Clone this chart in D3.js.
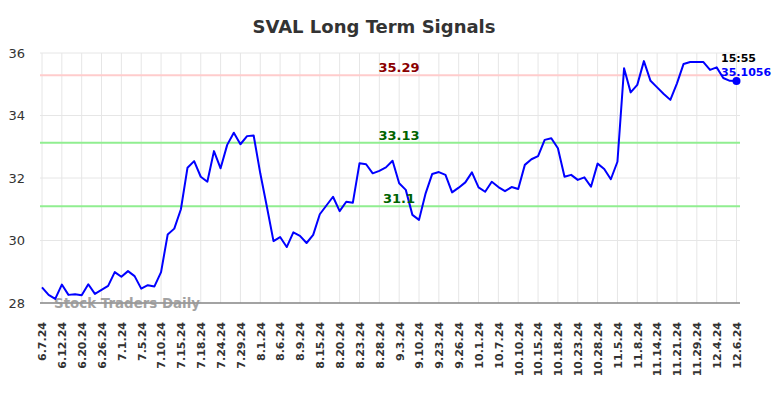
<!DOCTYPE html>
<html><head><meta charset="utf-8">
<script src="https://cdn.jsdelivr.net/npm/d3@7"></script>
<style>body{margin:0;background:#fff}svg{display:block}</style>
</head><body>
<svg id="c" width="784" height="398"></svg>
<script>
const values = [28.50,28.26,28.13,28.59,28.26,28.28,28.25,28.60,28.29,28.42,
28.55,28.99,28.84,29.02,28.86,28.46,28.57,28.53,28.99,30.19,
30.38,31.00,32.33,32.54,32.04,31.88,32.86,32.31,33.06,33.45,
33.08,33.34,33.36,32.15,31.08,29.98,30.11,29.79,30.26,30.15,
29.92,30.18,30.84,31.12,31.40,30.94,31.24,31.21,32.47,32.44,
32.15,32.23,32.34,32.55,31.83,31.62,30.82,30.66,31.51,32.13,
32.19,32.10,31.54,31.69,31.86,32.18,31.70,31.56,31.88,31.71,
31.58,31.71,31.65,32.42,32.60,32.70,33.22,33.27,32.95,32.04,
32.10,31.94,32.02,31.72,32.46,32.29,31.96,32.52,35.51,34.74,
34.98,35.74,35.11,34.90,34.69,34.50,35.03,35.65,35.71,35.71,
35.71,35.46,35.54,35.20,35.11,35.1056];
const tickLabels = ["6.7.24","6.12.24","6.20.24","6.26.24","7.1.24","7.5.24","7.10.24","7.15.24","7.18.24","7.24.24","7.29.24","8.1.24","8.6.24","8.9.24","8.15.24","8.20.24","8.23.24","8.28.24","9.3.24","9.10.24","9.23.24","9.26.24","10.1.24","10.7.24","10.10.24","10.15.24","10.18.24","10.23.24","10.28.24","11.5.24","11.8.24","11.14.24","11.21.24","11.29.24","12.4.24","12.6.24"];
const tickEvery = 3;
const yTicks = [28,30,32,34,36];
const levels = [
  {v:35.29, label:"35.29", line:"#ffcccc", text:"#8b0000"},
  {v:33.13, label:"33.13", line:"#90ee90", text:"#006400"},
  {v:31.1,  label:"31.1",  line:"#90ee90", text:"#006400"}
];
const title = "SVAL Long Term Signals";
const lastTime = "15:55";
const lastLabel = "35.1056";

const svg = d3.select("#c");
const pL = 40, pR = 740, pT = 53, pB = 303;
const x = d3.scaleLinear().domain([0, values.length-1]).range([42, 736.5]);
const y = d3.scaleLinear().domain([28,36]).range([pB, pT]);

// grid
const g = svg.append("g");
tickLabels.forEach((t,k)=>{
  const xx = x(k*tickEvery);
  g.append("line").attr("x1",xx).attr("x2",xx).attr("y1",pT).attr("y2",pB).attr("stroke","#e6e6e6").attr("stroke-width",1);
});
yTicks.forEach(v=>{
  g.append("line").attr("x1",pL).attr("x2",pR).attr("y1",y(v)).attr("y2",y(v)).attr("stroke","#e6e6e6").attr("stroke-width",1);
});

// y axis labels
const yAxis = d3.axisLeft(y).tickValues(yTicks).tickSize(0).tickPadding(0).tickFormat(d3.format("d"));
const ya = svg.append("g").attr("transform",`translate(${pL-15},0)`).call(yAxis);
ya.select(".domain").remove();
ya.selectAll("text").attr("font-family","DejaVu Sans, sans-serif").attr("font-size",13).attr("fill","#333");

// x axis
const xAxis = d3.axisBottom(x).tickValues(tickLabels.map((t,k)=>k*tickEvery)).tickSize(0).tickFormat((d,i)=>tickLabels[i]);
const xa = svg.append("g").attr("transform",`translate(0,${pB})`).call(xAxis);
xa.select(".domain").remove();
xa.selectAll("text")
  .attr("font-family","DejaVu Sans, sans-serif").attr("font-size",11).attr("font-weight","bold").attr("fill","#333")
  .attr("text-anchor","end").attr("dy","0.35em")
  .attr("transform","translate(0,19) rotate(-90)").attr("x",0).attr("y",0);

// level lines
levels.forEach(l=>{
  svg.append("line").attr("x1",pL).attr("x2",pR).attr("y1",y(l.v)).attr("y2",y(l.v)).attr("stroke",l.line).attr("stroke-width",2);
});

// baseline
svg.append("line").attr("x1",pL).attr("x2",pR).attr("y1",pB).attr("y2",pB).attr("stroke","#555").attr("stroke-width",1.2);

// watermark
svg.append("text").attr("x",54).attr("y",308).text("Stock Traders Daily")
  .attr("font-family","DejaVu Sans, sans-serif").attr("font-size",13.4).attr("font-weight","bold").attr("fill","#999").attr("opacity",0.9);

// line
const line = d3.line().x((d,i)=>x(i)).y(d=>y(d));
svg.append("path").datum(values).attr("d",line).attr("fill","none").attr("stroke","#0000ff").attr("stroke-width",2).attr("stroke-linejoin","round");

// level labels
levels.forEach(l=>{
  svg.append("text").attr("x",399).attr("y",y(l.v)-3).attr("text-anchor","middle").text(l.label)
    .attr("font-family","DejaVu Sans, sans-serif").attr("font-size",13).attr("font-weight","bold").attr("fill",l.text);
});

// last point
const li = values.length-1;
svg.append("circle").attr("cx",x(li)).attr("cy",y(values[li])).attr("r",4).attr("fill","#0000ff");
svg.append("text").attr("x",721).attr("y",62).text(lastTime)
  .attr("font-family","DejaVu Sans, sans-serif").attr("font-size",11).attr("font-weight","bold").attr("fill","#000");
svg.append("text").attr("x",721).attr("y",76).text(lastLabel)
  .attr("font-family","DejaVu Sans, sans-serif").attr("font-size",11).attr("font-weight","bold").attr("fill","#0000ff");

// title
svg.append("text").attr("x",374).attr("y",33).attr("text-anchor","middle").text(title)
  .attr("font-family","DejaVu Sans, sans-serif").attr("font-size",18).attr("font-weight","bold").attr("fill","#333");
</script>
</body></html>
